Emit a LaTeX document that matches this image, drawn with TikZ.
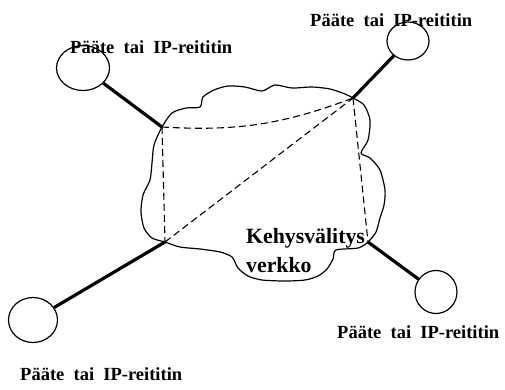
\documentclass[tikz,border=0pt]{standalone}
\usepackage{fontspec}
\setmainfont{Liberation Serif}
\usetikzlibrary{shapes.geometric}

\tikzset{
  host/.style={draw, ellipse, line width=1.2pt, inner sep=0pt},
  trunk/.style={line width=3.2pt},
  vc/.style={line width=1.1pt, dash pattern=on 7pt off 4pt},
  cloudline/.style={line width=1.2pt, line join=round},
  hostlabel/.style={anchor=base west, inner sep=0pt,
    font=\fontsize{18.5}{22}\selectfont\bfseries},
  netlabel/.style={anchor=base west, inner sep=0pt, align=left,
    font=\fontsize{21.8}{29}\selectfont\bfseries},
}

\begin{document}
\begin{tikzpicture}[x=1pt, y=-1pt]
\useasboundingbox (0,0) rectangle (505,389);

% frame relay cloud
\draw[cloudline] plot[smooth cycle, tension=0.45] coordinates {
  (162,127) (172,113) (186,108) (200,107) (203,97) (214,90) (228,86)
  (245,87) (262,91) (275,85) (292,88) (312,87) (330,89) (345,94)
  (353,98) (364,105) (370,120) (368,140) (361,153) (370,158) (380,170)
  (385,190) (384,205) (380,218) (376,232) (368,242) (358,248) (336,250)
  (333,259) (327,269) (318,276) (305,280) (285,281) (262,280) (248,276)
  (238,268) (232,257) (220,252) (200,249) (180,247) (165,242) (152,238)
  (144,228) (141,212) (143,195) (150,180) (152,163) (154,145)};

% access points on the cloud
\coordinate (jtl) at (162,127);
\coordinate (jtr) at (353,98);
\coordinate (jbl) at (165,242);
\coordinate (jbr) at (368,242);

% end stations
\node[host, minimum width=53pt, minimum height=45pt] (htl) at (83,68) {};
\node[host, minimum width=42pt, minimum height=38pt] (htr) at (408,41) {};
\node[host, minimum width=49pt, minimum height=45pt] (hbl) at (33,320) {};
\node[host, minimum width=42pt, minimum height=43pt] (hbr) at (436,292) {};

% access links
\draw[trunk] (htl) -- (jtl);
\draw[trunk] (htr) -- (jtr);
\draw[trunk] (hbl) -- (jbl);
\draw[trunk] (hbr) -- (jbr);

% virtual circuits
\draw[vc] (jtl) to[bend right=12] (jtr);
\draw[vc] (jtl) -- (jbl);
\draw[vc] (jbl) -- (jtr);
\draw[vc] (jtr) -- (jbr);

% labels
\node[hostlabel] (ltl) at (70,53) {Pääte~~tai~~IP-reititin};
\node[hostlabel] (ltr) at (310,26) {Pääte~~tai~~IP-reititin};
\node[hostlabel] (lbl) at (20,380) {Pääte~~tai~~IP-reititin};
\node[hostlabel] (lbr) at (337,338) {Pääte~~tai~~IP-reititin};
\node[netlabel] (lnet) at (246,272) {Kehysvälitys\\verkko};
\end{tikzpicture}
\end{document}
